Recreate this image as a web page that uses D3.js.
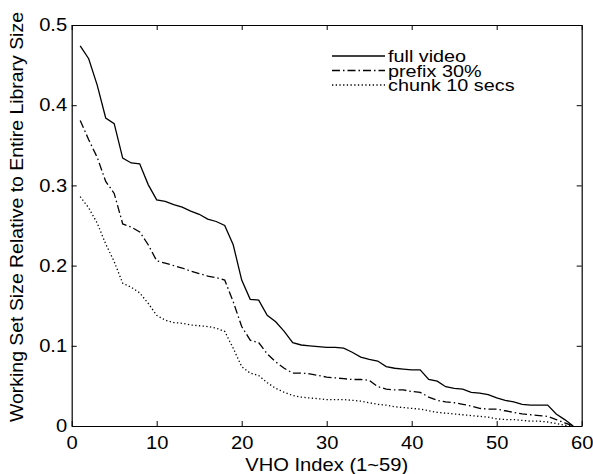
<!DOCTYPE html>
<html>
<head>
<meta charset="utf-8">
<script src="https://cdn.jsdelivr.net/npm/d3@7"></script>
<style>
  body { margin: 0; background: #fff; }
  text { font-family: "Liberation Sans", Arial, sans-serif; fill: #000; }
</style>
</head>
<body>
<div id="chart"></div>
<script>
// values, VHO index 1..59
const fullVideo = [0.474, 0.458, 0.425, 0.384, 0.377, 0.334, 0.328, 0.327, 0.301, 0.282,
  0.280, 0.276, 0.273, 0.268, 0.264, 0.258, 0.255, 0.250, 0.226, 0.182,
  0.158, 0.157, 0.138, 0.130, 0.118, 0.104, 0.101, 0.100, 0.099, 0.098,
  0.098, 0.097, 0.092, 0.086, 0.083, 0.081, 0.074, 0.072, 0.071, 0.070,
  0.070, 0.058, 0.056, 0.049, 0.047, 0.046, 0.042, 0.041, 0.039, 0.035,
  0.032, 0.030, 0.027, 0.026, 0.026, 0.026, 0.015, 0.008, 0.000];
const prefix30 = [0.381, 0.357, 0.335, 0.305, 0.290, 0.252, 0.248, 0.242, 0.226, 0.206,
  0.203, 0.200, 0.197, 0.193, 0.190, 0.187, 0.185, 0.182, 0.155, 0.124,
  0.107, 0.104, 0.090, 0.080, 0.072, 0.066, 0.066, 0.065, 0.063, 0.061,
  0.060, 0.059, 0.058, 0.058, 0.057, 0.049, 0.046, 0.045, 0.045, 0.043,
  0.042, 0.036, 0.032, 0.030, 0.029, 0.027, 0.025, 0.022, 0.021, 0.021,
  0.019, 0.017, 0.015, 0.014, 0.013, 0.012, 0.008, 0.004, 0.000];
const chunk10 = [0.286, 0.272, 0.253, 0.227, 0.205, 0.178, 0.173, 0.166, 0.153, 0.138,
  0.132, 0.129, 0.128, 0.126, 0.125, 0.124, 0.122, 0.118, 0.097, 0.074,
  0.066, 0.063, 0.054, 0.047, 0.042, 0.038, 0.036, 0.035, 0.034, 0.033,
  0.033, 0.033, 0.032, 0.031, 0.029, 0.027, 0.026, 0.024, 0.023, 0.022,
  0.021, 0.019, 0.017, 0.016, 0.015, 0.014, 0.013, 0.012, 0.011, 0.009,
  0.008, 0.008, 0.007, 0.006, 0.006, 0.005, 0.003, 0.001, 0.000];

const seriesNames = ["full video", "prefix 30%", "chunk 10 secs"];
const xTicks = [0, 10, 20, 30, 40, 50, 60];
const yTicks = [0, 0.1, 0.2, 0.3, 0.4, 0.5];

const width = 593, height = 474;
const margin = { left: 71.7, right: 11.3, top: 25, bottom: 48 };

const x = d3.scaleLinear().domain([0, 60]).range([margin.left, width - margin.right]);
const y = d3.scaleLinear().domain([0, 0.5]).range([height - margin.bottom, margin.top]);

const svg = d3.select("#chart").append("svg")
  .attr("width", width)
  .attr("height", height);

// the picture's text is a bit wider than it is tall
const stretch = 1.12;

// series with their dash styles
const styles = [
  { data: fullVideo, dash: null },
  { data: prefix30, dash: "8,3,1.5,3" },
  { data: chunk10, dash: "1.3,2.4" }
];

const line = d3.line()
  .x((d, i) => x(i + 1))
  .y(d => y(d));

styles.forEach(s => {
  svg.append("path")
    .datum(s.data)
    .attr("fill", "none")
    .attr("stroke", "#000")
    .attr("stroke-width", 1.3)
    .attr("stroke-dasharray", s.dash)
    .attr("d", line);
});

// axes, matlab style: box with inward ticks on every side
const tickLen = 5;
const fontSize = 18;

const xAxis = svg.append("g").attr("transform", `translate(0,${y(0)})`)
  .call(d3.axisBottom(x).tickValues(xTicks).tickSizeInner(-tickLen).tickSizeOuter(0).tickPadding(10));
const xTop = svg.append("g").attr("transform", `translate(0,${y(0.5)})`)
  .call(d3.axisTop(x).tickValues(xTicks).tickSizeInner(-tickLen).tickSizeOuter(0).tickFormat(""));
const yAxis = svg.append("g").attr("transform", `translate(${x(0)},0)`)
  .call(d3.axisLeft(y).tickValues(yTicks).tickSizeInner(-tickLen).tickSizeOuter(0).tickPadding(9)
    .tickFormat(d => d === 0 ? "0" : d3.format(".1f")(d)));
const yRight = svg.append("g").attr("transform", `translate(${x(60)},0)`)
  .call(d3.axisRight(y).tickValues(yTicks).tickSizeInner(-tickLen).tickSizeOuter(0).tickFormat(""));

[xAxis, xTop, yAxis, yRight].forEach(g => {
  g.selectAll("path.domain").attr("stroke", "#000").attr("stroke-width", 1.2);
  g.selectAll(".tick line").attr("stroke", "#000").attr("stroke-width", 1);
  g.selectAll(".tick text")
    .attr("font-family", "Liberation Sans, Arial, sans-serif")
    .attr("font-size", fontSize)
    .attr("fill", "#000");
});
xAxis.selectAll(".tick text")
  .attr("dy", "0.71em")
  .attr("transform", `scale(${stretch},1)`);
yAxis.selectAll(".tick text")
  .attr("x", -4.5 / stretch)
  .attr("transform", `scale(${stretch},1)`);

// axis titles
svg.append("text")
  .attr("transform", `translate(${(x(0) + x(60)) / 2},471) scale(${stretch},1)`)
  .attr("text-anchor", "middle")
  .attr("font-size", fontSize)
  .text("VHO Index (1~59)");

svg.append("text")
  .attr("transform", `translate(23,217) rotate(-90) scale(1.08,1)`)
  .attr("text-anchor", "middle")
  .attr("font-size", fontSize)
  .text("Working Set Size Relative to Entire Library Size");

// legend
const legend = svg.append("g");
styles.forEach((s, i) => {
  const ly = 56 + i * 14.5;
  legend.append("line")
    .attr("x1", 332).attr("x2", 385)
    .attr("y1", ly).attr("y2", ly)
    .attr("stroke", "#000")
    .attr("stroke-width", 1.3)
    .attr("stroke-dasharray", s.dash);
  legend.append("text")
    .attr("transform", `translate(388,${ly + 6}) scale(1.2,1)`)
    .attr("font-size", 16.5)
    .text(seriesNames[i]);
});
</script>
</body>
</html>
